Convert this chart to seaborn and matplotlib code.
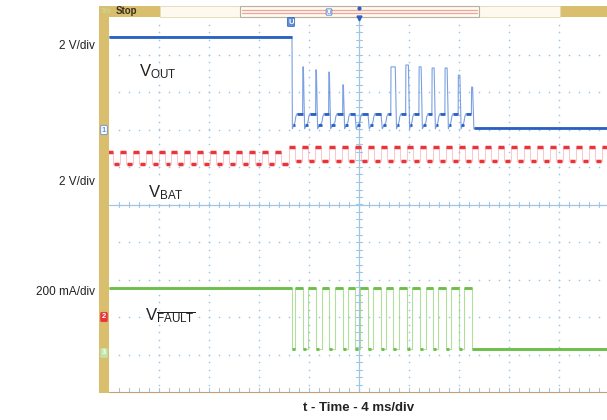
import numpy as np
import pandas as pd
import seaborn as sns
import matplotlib.pyplot as plt
from matplotlib.patches import Rectangle

# scope screen: 4 ms/div horizontally (0..40 ms), 10 divisions vertically
drop_time = 14.64

fault_rise = [14.88, 15.92, 17.04, 18.08, 19.12, 20.08, 21.12, 22.16, 23.20, 24.24, 25.36, 26.32, 27.36, 28.40]
fault_fall = [15.52, 16.56, 17.60, 18.72, 19.68, 20.72, 21.76, 22.72, 23.84, 24.88, 25.92, 26.96, 28.00, 29.04]
fault_high = 2.77
fault_low = 1.15

vout_high = 9.47
vout_plateau = 7.42
vout_dip = 7.02
vout_final = 7.04
vout_peak = [8.67, 8.59, 8.53, 8.19, None, None, None, 8.67, 8.72, 8.67, 8.64, 8.64, 8.45, 8.13]
vout_width = [0.06, 0.06, 0.06, 0.06, 0.0, 0.0, 0.0, 0.36, 0.22, 0.18, 0.18, 0.18, 0.14, 0.10]

vbat_center = [0.08, 1.12, 2.16, 3.20, 4.24, 5.20, 6.24, 7.28, 8.32, 9.36, 10.40, 11.44, 12.48,
               13.52, 14.64, 15.68, 16.72, 17.84, 18.88, 19.92, 20.96, 22.00, 23.04, 24.08, 25.12,
               26.16, 27.20, 28.24, 29.28, 30.32, 31.36, 32.40, 33.44, 34.48, 35.52, 36.56, 37.60,
               38.64, 39.68]
vbat_shift = 14.3
vbat_before = (6.40, 6.08)
vbat_after = (6.53, 6.16)

scale_labels = ["2 V/div", "2 V/div", "200 mA/div"]
x_label = "t - Time - 4 ms/div"

BLUE = "#2b5fc0"
RED = "#e8343a"
GREEN = "#6cc04a"
GOLD = "#d9be6e"
GRID = "#9fc6e6"


def build_fault():
    t = [0, drop_time, drop_time]
    v = [fault_high, fault_high, fault_low]
    hi = [(0, drop_time)]
    lo = []
    prev = drop_time
    for r, f in zip(fault_rise, fault_fall):
        t += [r, r, f, f]
        v += [fault_low, fault_high, fault_high, fault_low]
        lo.append((prev, r))
        hi.append((r, f))
        prev = f
    t.append(40)
    v.append(fault_low)
    lo.append((prev, 40))
    return t, v, hi, lo


def build_vout():
    t = [0, drop_time, drop_time + 0.03]
    v = [vout_high, vout_high, vout_dip]
    segs = [(0, drop_time, vout_high)]
    prev = drop_time + 0.05
    for r, f, pk, w in zip(fault_rise, fault_fall, vout_peak, vout_width):
        segs.append((prev, r, vout_dip + 0.1))
        t += [r, r + 0.06, r + 0.16, f - w / 2]
        v += [vout_dip + 0.18, vout_plateau - 0.08, vout_plateau, vout_plateau]
        segs.append((r + 0.16, f - w / 2, vout_plateau))
        if pk is not None:
            t += [f - w / 2 + 0.02, f + w / 2, f + w / 2 + 0.1]
            v += [pk, pk, vout_dip]
            prev = f + w / 2 + 0.12
        else:
            t += [f + 0.1]
            v += [vout_dip]
            prev = f + 0.12
    t += [prev + 0.1, 40]
    v += [vout_final, vout_final]
    segs.append((prev, 40, vout_final))
    return t, v, segs


def build_vbat():
    t, v, segs = [], [], []
    half = 0.26
    for i, c in enumerate(vbat_center):
        hi, lo = vbat_before if c < vbat_shift else vbat_after
        t += [c - half, c + half, c + half]
        v += [hi, hi, lo]
        segs.append((c - half + 0.05, c + half - 0.05, hi))
        end = vbat_center[i + 1] - half if i + 1 < len(vbat_center) else 40
        t += [end]
        v += [lo]
        segs.append((c + half + 0.05, end - 0.05, lo))
    return t, v, segs


sns.set_style("white")
plt.rcParams["font.family"] = ["Liberation Sans", "DejaVu Sans"]
plt.rcParams["mathtext.fontset"] = "custom"
plt.rcParams["mathtext.rm"] = "Liberation Sans"
plt.rcParams["mathtext.it"] = "Liberation Sans"

W, H = 607, 420
fig = plt.figure(figsize=(W / 100, H / 100), dpi=100)
ax = fig.add_axes([109 / W, 28 / H, 500 / W, 375 / H])
ax.set_xlim(0, 40)
ax.set_ylim(0, 10)
ax.axis("off")


def fx(px):
    return px / W


def fy(py):
    return 1 - py / H


# dotted graticule
for xi in np.arange(4, 40, 4):
    if xi == 20:
        continue
    yy = np.arange(0.2, 10, 0.2)
    ax.scatter(np.full_like(yy, xi), yy, s=1.4, color=GRID, linewidths=0, zorder=1)
for yi in np.arange(1, 10, 1):
    if yi == 5:
        continue
    xx = np.arange(0.8, 40, 0.8)
    ax.scatter(xx, np.full_like(xx, yi), s=1.4, color=GRID, linewidths=0, zorder=1)

# centre cross with minor ticks
ax.axhline(5, color=GRID, lw=0.9, zorder=1)
ax.axvline(20, color=GRID, lw=0.9, zorder=1)
for xx in np.arange(0.8, 40, 0.8):
    ax.plot([xx, xx], [4.93, 5.07], color=GRID, lw=0.8, zorder=1)
    ax.plot([xx, xx], [0, 0.1], color=GRID, lw=0.8, zorder=1)
for yy in np.arange(0.2, 10, 0.2):
    ax.plot([19.75, 20.25], [yy, yy], color=GRID, lw=0.8, zorder=1)

# traces: faint full waveform plus bright horizontal parts
ft, fv, fhi, flo = build_fault()
vt, vv, vsegs = build_vout()
bt, bv, bsegs = build_vbat()

for t, v, col, a in [(ft, fv, "#8fd36e", 0.7), (vt, vv, "#4f82d8", 0.75), (bt, bv, "#f08a8c", 0.45)]:
    df = pd.DataFrame({"t": t, "v": v})
    sns.lineplot(data=df, x="t", y="v", ax=ax, estimator=None, sort=False,
                 color=col, lw=0.8, alpha=a, zorder=2)

ax.hlines([fault_high] * len(fhi), [s for s, e in fhi], [e for s, e in fhi], color=GREEN, lw=2.1, zorder=3)
ax.hlines([fault_low] * len(flo), [s for s, e in flo], [min(s + 0.25, e) if e - s < 1 else e for s, e in flo],
          color=GREEN, lw=2.1, zorder=3)
ax.hlines([s[2] for s in vsegs], [s[0] for s in vsegs], [s[1] for s in vsegs], color=BLUE, lw=2.0, zorder=3)
ax.hlines([s[2] for s in bsegs], [s[0] for s in bsegs], [s[1] for s in bsegs], color=RED, lw=2.5, zorder=3)

# bezel: gold left bar and top status bar
fig.add_artist(Rectangle((fx(99), fy(393)), fx(10), (393 - 6) / H, transform=fig.transFigure,
                         color=GOLD, lw=0, zorder=5))
fig.add_artist(Rectangle((fx(99), fy(17)), fx(61), 11 / H, transform=fig.transFigure,
                         color=GOLD, lw=0, zorder=5))
fig.add_artist(Rectangle((fx(560), fy(17)), fx(50), 11 / H, transform=fig.transFigure,
                         color=GOLD, lw=0, zorder=5))
fig.add_artist(Rectangle((fx(160), fy(17)), fx(400), 11 / H, transform=fig.transFigure,
                         facecolor="#fdf9ef", edgecolor="#e2d6b4", lw=0.6, zorder=5))
fig.add_artist(Rectangle((fx(240), fy(17)), fx(239), 11 / H, transform=fig.transFigure,
                         facecolor="none", edgecolor="#b9b0a0", lw=0.8, zorder=6))
fig.add_artist(plt.Line2D([fx(242), fx(477)], [fy(10), fy(10)], transform=fig.transFigure,
                          color="#f0a49a", lw=0.9, zorder=6))
fig.add_artist(plt.Line2D([fx(242), fx(477)], [fy(13), fy(13)], transform=fig.transFigure,
                          color="#f0a49a", lw=0.9, zorder=6))
fig.add_artist(plt.Line2D([fx(109), fx(607)], [fy(392), fy(392)], transform=fig.transFigure,
                          color="#c8a070", lw=0.8, zorder=5))
fig.text(fx(101), fy(11.5), "Tek", fontsize=5, color="#c5e0a0", va="center", zorder=7)
fig.text(fx(116), fy(11.5), "Stop", fontsize=7, fontweight="bold", color="#3a3020", va="center", zorder=7)
fig.text(fx(329), fy(12), "U", fontsize=4.5, color=BLUE, ha="center", va="center", zorder=7,
         bbox=dict(boxstyle="round,pad=0.1", fc="white", ec=BLUE, lw=0.5))
fig.text(fx(291), fy(22), "U", fontsize=5.5, color="white", fontweight="bold", ha="center", va="center",
         zorder=7, bbox=dict(boxstyle="round,pad=0.12", fc="#5f8fd8", ec=BLUE, lw=0.5))
fig.add_artist(plt.Line2D([fx(359)], [fy(8)], transform=fig.transFigure, marker="o", ms=2,
                          color=BLUE, zorder=7))
fig.add_artist(plt.Line2D([fx(359)], [fy(18)], transform=fig.transFigure, marker="v", ms=3.5,
                          color=BLUE, zorder=7))

# channel markers on left bezel
for py, txt, fc, ec, tc in [(130, "1", "white", "#5f8fd8", "#5f8fd8"),
                             (317, "2", "#e8343a", "#e8343a", "white"),
                             (353, "3", "#bfe3a8", "#bfe3a8", "white")]:
    fig.text(fx(104), fy(py), txt, fontsize=5.5, color=tc, fontweight="bold", ha="center", va="center",
             zorder=7, bbox=dict(boxstyle="round,pad=0.15", fc=fc, ec=ec, lw=0.6))

# scale labels
for py, txt in zip([46, 182, 292], scale_labels):
    fig.text(fx(95), fy(py), txt, fontsize=8.5, ha="right", va="center", color="#222222")

# trace names
fig.text(fx(139), fy(76), r"$\mathrm{V}_{\mathrm{OUT}}$", fontsize=12, va="baseline", color="#222222")
fig.text(fx(148), fy(197), r"$\mathrm{V}_{\mathrm{BAT}}$", fontsize=12, va="baseline", color="#222222",
         bbox=dict(boxstyle="square,pad=0.15", fc="white", ec="none"), zorder=4)
fig.text(fx(145), fy(320), r"$\mathrm{V}_{\overline{\mathrm{FAULT}}}$", fontsize=12, va="baseline",
         color="#222222")

fig.text(fx(359), fy(408), x_label, fontsize=9.5, fontweight="bold", ha="center", va="center",
         color="#222222")

fig.savefig("out.png", dpi=100)
